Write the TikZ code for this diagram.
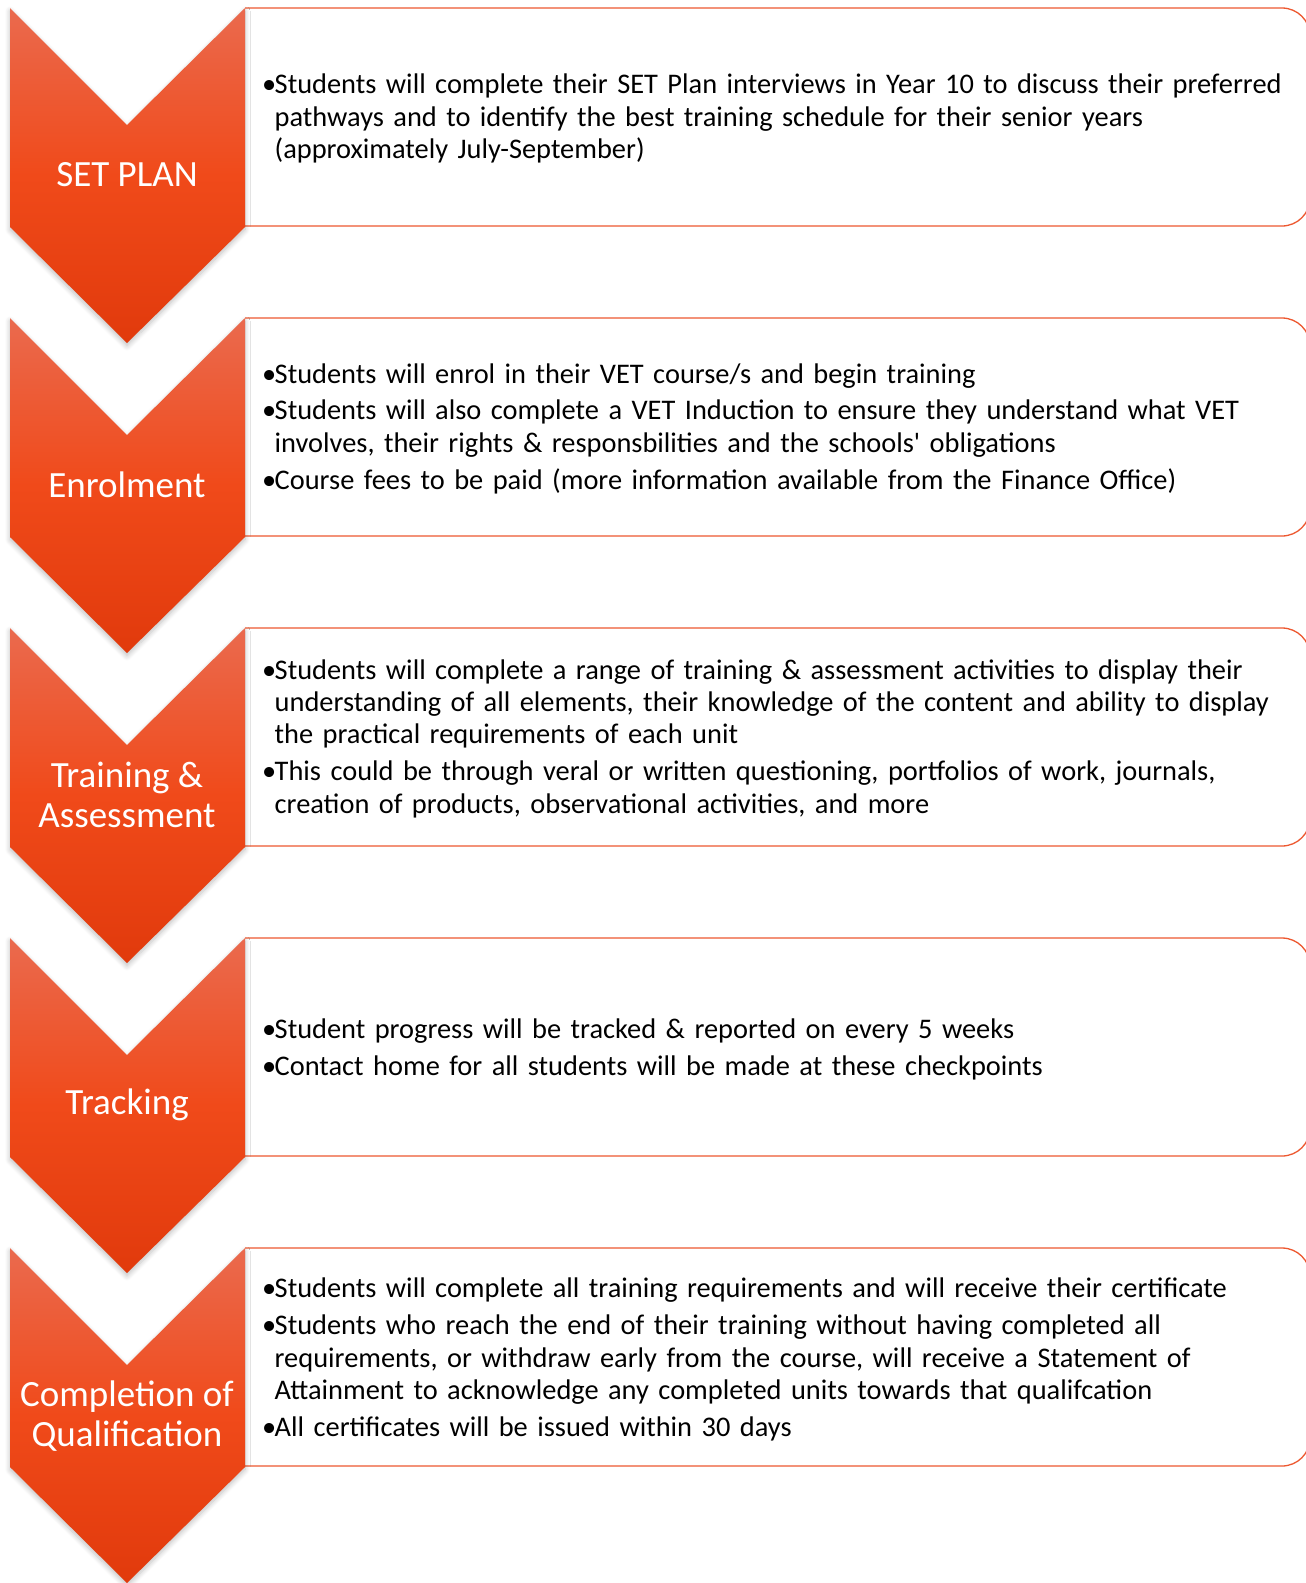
\documentclass[tikz,border=0pt]{standalone}
\usepackage{fontspec}
\setmainfont{Carlito}
\usetikzlibrary{shadows.blur}

\definecolor{chevtop}{RGB}{234,106,78}
\definecolor{chevmid}{RGB}{240,74,26}
\definecolor{chevbot}{RGB}{225,58,12}
\definecolor{boxline}{RGB}{237,88,48}

% one bullet paragraph with hanging indent
\newcommand\bitem[1]{\par\noindent\hangindent=12.5pt\hangafter=1\makebox[12.5pt][l]{\textbullet}#1\par}
\newcommand\boxsetup{\raggedright\setlength{\parskip}{4.5pt}}
% straight apostrophe, not turned into a curly quote
\newcommand\sq{\XeTeXglyph\XeTeXcharglyph"0027\relax}

\tikzset{
  chevron/.style={top color=chevtop, bottom color=chevbot, middle color=chevmid,
    blur shadow={shadow blur steps=8, shadow xshift=0pt, shadow yshift=-3pt,
      shadow blur radius=5pt, shadow opacity=25}},
  infobox/.style={draw=boxline, line width=1.3pt, fill=white, rounded corners=28pt},
  steplabel/.style={text=white, font=\fontsize{37}{40}\selectfont, align=center},
  steptext/.style={anchor=west, text width=1040pt, inner sep=0pt,
    font=\fontsize{28.4}{32.4}\selectfont, execute at begin node=\boxsetup},
}

\begin{document}
\begin{tikzpicture}[x=1pt,y=-1pt]
\useasboundingbox (0,0) rectangle (1306,1583);
\clip (0,0) rectangle (1306,1583);

% text boxes, square on the left, rounded on the right
\foreach \t in {8,318,628,938,1248}{
  \draw[infobox] (245,\t) -- (1310,\t) -- (1310,\t+218) -- (245,\t+218);
}

% chevrons
\foreach \t in {8,318,628,938,1248}{
  \path[chevron] (10,\t) -- (127,\t+117) -- (245,\t) -- (245,\t+219)
    -- (127,\t+335) -- (10,\t+219) -- cycle;
}

\node[steplabel] (c1) at (127,175) {SET PLAN};
\node[steplabel] (c2) at (127,485) {Enrolment};
\node[steplabel] (c3) at (127,795) {Training \&\\Assessment};
\node[steplabel] (c4) at (127,1105) {Tracking};
\node[steplabel] (c5) at (127,1416) {Completion of\\Qualification};

\node[steptext] (t1) at (262,110) {%
\bitem{Students will complete their SET Plan interviews in Year 10 to discuss their preferred\newline
pathways and to identify the best training schedule for their senior years\newline
(approximately July-September)}};

\node[steptext] (t2) at (262,420) {%
\bitem{Students will enrol in their VET course/s and begin training}
\bitem{Students will also complete a VET Induction to ensure they understand what VET\newline
involves, their rights \& responsbilities and the schools\sq{} obligations}
\bitem{Course fees to be paid (more information available from the Finance Office)}};

\node[steptext] (t3) at (262,730) {%
\bitem{Students will complete a range of training \& assessment activities to display their\newline
understanding of all elements, their knowledge of the content and ability to display\newline
the practical requirements of each unit}
\bitem{This could be through veral or written questioning, portfolios of work, journals,\newline
creation of products, observational activities, and more}};

\node[steptext] (t4) at (262,1041) {%
\bitem{Student progress will be tracked \& reported on every 5 weeks}
\bitem{Contact home for all students will be made at these checkpoints}};

\node[steptext] (t5) at (262,1351) {%
\bitem{Students will complete all training requirements and will receive their certificate}
\bitem{Students who reach the end of their training without having completed all\newline
requirements, or withdraw early from the course, will receive a Statement of\newline
Attainment to acknowledge any completed units towards that qualifcation}
\bitem{All certificates will be issued within 30 days}};
\end{tikzpicture}
\end{document}
